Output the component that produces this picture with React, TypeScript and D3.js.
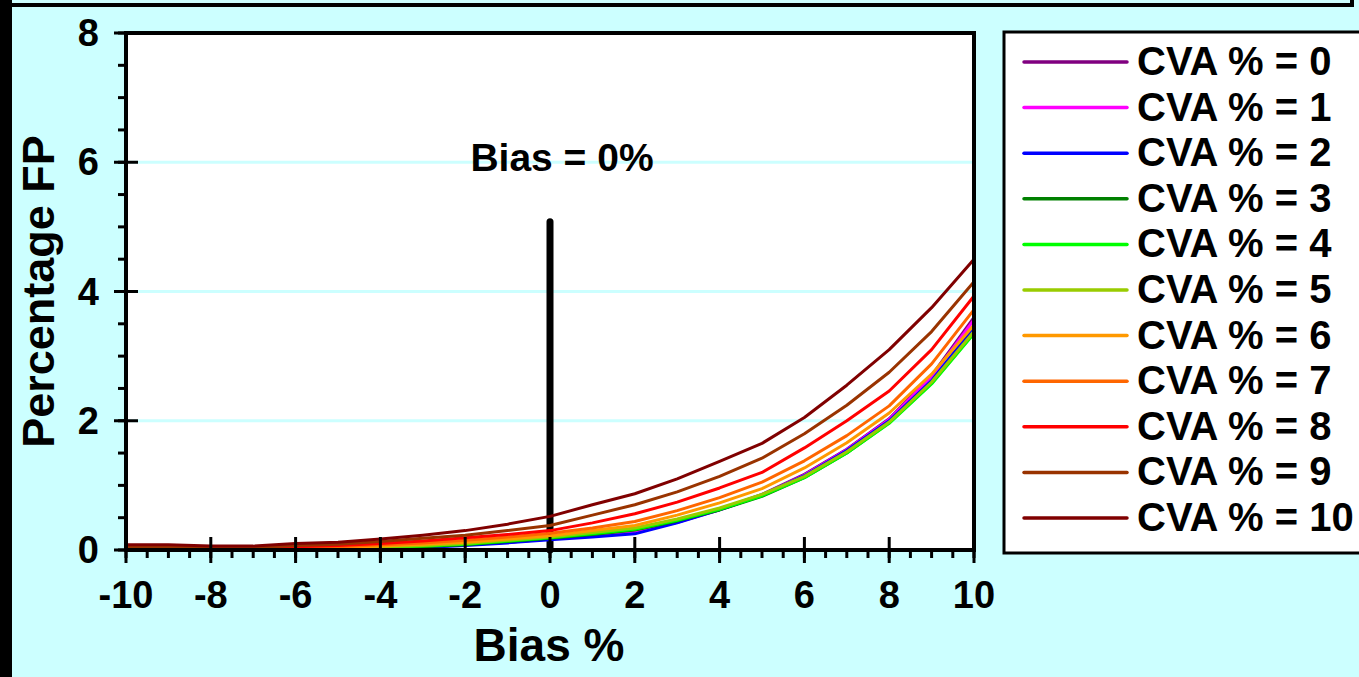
import React, { useEffect, useRef } from 'react';
import * as d3 from 'd3';

// bias values along the x axis
const biasValues = [-10, -9, -8, -7, -6, -5, -4, -3, -2, -1, 0, 1, 2, 3, 4, 5, 6, 7, 8, 9, 10];

const cvaLabels = ['CVA % = 0', 'CVA % = 1', 'CVA % = 2', 'CVA % = 3', 'CVA % = 4', 'CVA % = 5',
    'CVA % = 6', 'CVA % = 7', 'CVA % = 8', 'CVA % = 9', 'CVA % = 10'];

const cvaColours = ['#800080', '#ff00ff', '#0000ff', '#008000', '#00ff00', '#99cc00',
    '#ff9900', '#ff6600', '#ff0000', '#993300', '#800000'];

// percentage FP per CVA
const cva0 = [0, 0, 0, 0, 0.01, 0.02, 0.03, 0.05, 0.08, 0.12, 0.17, 0.22, 0.29, 0.43, 0.63, 0.86, 1.17, 1.56, 2.03, 2.7, 3.6];
const cva1 = [0, 0, 0, 0, 0.01, 0.02, 0.03, 0.05, 0.08, 0.12, 0.17, 0.22, 0.28, 0.43, 0.62, 0.85, 1.16, 1.55, 2.02, 2.68, 3.56];
const cva2 = [0, 0, 0, 0, 0.01, 0.01, 0.02, 0.04, 0.07, 0.11, 0.16, 0.2, 0.25, 0.42, 0.62, 0.85, 1.15, 1.54, 2.0, 2.62, 3.45];
const cva3 = [0, 0, 0, 0, 0.01, 0.02, 0.03, 0.05, 0.08, 0.13, 0.18, 0.24, 0.31, 0.45, 0.62, 0.83, 1.12, 1.5, 1.97, 2.58, 3.36];
const cva4 = [0, 0, 0, 0, 0.01, 0.02, 0.04, 0.06, 0.09, 0.14, 0.19, 0.25, 0.32, 0.46, 0.63, 0.84, 1.12, 1.5, 1.96, 2.57, 3.35];
const cva5 = [0, 0, 0, 0.01, 0.02, 0.03, 0.05, 0.07, 0.1, 0.15, 0.2, 0.27, 0.34, 0.48, 0.65, 0.86, 1.14, 1.52, 1.98, 2.6, 3.38];
const cva6 = [0, 0, 0.01, 0.01, 0.02, 0.04, 0.06, 0.09, 0.12, 0.17, 0.22, 0.3, 0.38, 0.54, 0.73, 0.95, 1.27, 1.66, 2.12, 2.72, 3.48];
const cva7 = [0.01, 0.01, 0.01, 0.02, 0.03, 0.05, 0.08, 0.11, 0.15, 0.2, 0.26, 0.34, 0.44, 0.61, 0.81, 1.05, 1.38, 1.77, 2.23, 2.88, 3.72];
const cva8 = [0.02, 0.02, 0.02, 0.03, 0.05, 0.07, 0.1, 0.14, 0.19, 0.24, 0.3, 0.42, 0.56, 0.74, 0.96, 1.2, 1.58, 2.0, 2.46, 3.1, 3.93];
const cva9 = [0.05, 0.05, 0.04, 0.04, 0.07, 0.09, 0.13, 0.18, 0.23, 0.3, 0.38, 0.54, 0.7, 0.9, 1.14, 1.42, 1.8, 2.24, 2.75, 3.38, 4.15];
const cva10 = [0.08, 0.08, 0.06, 0.06, 0.1, 0.12, 0.17, 0.23, 0.3, 0.4, 0.52, 0.7, 0.87, 1.1, 1.37, 1.65, 2.05, 2.55, 3.1, 3.75, 4.5];

const seriesValues = [cva0, cva1, cva2, cva3, cva4, cva5, cva6, cva7, cva8, cva9, cva10];

const xTicks = [-10, -8, -6, -4, -2, 0, 2, 4, 6, 8, 10];
const yTicks = [0, 2, 4, 6, 8];
const gridValues = [2, 4, 6];

// the vertical marker at bias 0
const markerBias = 0;
const markerHeight = 5.08;
const markerLabel = 'Bias = 0%';

const W = 1359;
const H = 677;
const FONT = 'Arial, "Liberation Sans", Helvetica, sans-serif';

export default function App() {
    const ref = useRef<SVGSVGElement>(null);

    useEffect(() => {
        const svg = d3.select(ref.current);
        svg.selectAll('*').remove();

        const margin = { top: 33, right: 385, bottom: 127, left: 126 };
        const width = W - margin.left - margin.right;
        const height = H - margin.top - margin.bottom;

        const x = d3.scaleLinear().domain([-10, 10]).range([margin.left, margin.left + width]);
        const y = d3.scaleLinear().domain([0, 8]).range([margin.top + height, margin.top]);

        // background and the black frame bits
        svg.append('rect').attr('width', W).attr('height', H).attr('fill', '#ccffff');
        svg.append('rect').attr('x', 0).attr('y', 0).attr('width', 12).attr('height', H).attr('fill', '#000');
        svg.append('line').attr('x1', 0).attr('x2', 1354).attr('y1', 5).attr('y2', 5)
            .attr('stroke', '#000').attr('stroke-width', 4);
        svg.append('line').attr('x1', 1352).attr('x2', 1352).attr('y1', 0).attr('y2', 5)
            .attr('stroke', '#000').attr('stroke-width', 4);

        // plot area
        svg.append('rect')
            .attr('x', margin.left).attr('y', margin.top)
            .attr('width', width).attr('height', height)
            .attr('fill', '#fff');

        svg.selectAll('.grid')
            .data(gridValues)
            .enter().append('line')
            .attr('class', 'grid')
            .attr('x1', margin.left).attr('x2', margin.left + width)
            .attr('y1', (d: number) => y(d)).attr('y2', (d: number) => y(d))
            .attr('stroke', '#ccffff').attr('stroke-width', 3);

        // bias marker
        svg.append('line')
            .attr('x1', x(markerBias)).attr('x2', x(markerBias))
            .attr('y1', y(0)).attr('y2', y(markerHeight))
            .attr('stroke', '#000').attr('stroke-width', 7).attr('stroke-linecap', 'round');

        svg.append('text')
            .attr('x', x(markerBias) + 12).attr('y', y(6) + 9)
            .attr('text-anchor', 'middle')
            .attr('font-family', FONT).attr('font-weight', 'bold').attr('font-size', 39)
            .text(markerLabel);

        // series
        const line = d3.line<number>()
            .x((_d: number, i: number) => x(biasValues[i]))
            .y((d: number) => y(d));

        svg.selectAll('.series')
            .data(seriesValues)
            .enter().append('path')
            .attr('class', 'series')
            .attr('d', (d: number[]) => line(d))
            .attr('fill', 'none')
            .attr('stroke', (_d: number[], i: number) => cvaColours[i])
            .attr('stroke-width', 3)
            .attr('stroke-linejoin', 'round');

        // frame
        svg.append('rect')
            .attr('x', margin.left).attr('y', margin.top)
            .attr('width', width).attr('height', height)
            .attr('fill', 'none').attr('stroke', '#000').attr('stroke-width', 4);

        // y ticks
        const yMinor = d3.range(0, 8.01, 0.5);
        svg.selectAll('.yMinor')
            .data(yMinor)
            .enter().append('line')
            .attr('class', 'yMinor')
            .attr('x1', margin.left - 8).attr('x2', margin.left)
            .attr('y1', (d: number) => y(d)).attr('y2', (d: number) => y(d))
            .attr('stroke', '#000').attr('stroke-width', 3);
        svg.selectAll('.yMajor')
            .data(yTicks)
            .enter().append('line')
            .attr('class', 'yMajor')
            .attr('x1', margin.left - 12).attr('x2', margin.left + 12)
            .attr('y1', (d: number) => y(d)).attr('y2', (d: number) => y(d))
            .attr('stroke', '#000').attr('stroke-width', 3);
        svg.selectAll('.yLabel')
            .data(yTicks)
            .enter().append('text')
            .attr('class', 'yLabel')
            .attr('x', margin.left - 27)
            .attr('y', (d: number) => y(d) + 13)
            .attr('text-anchor', 'end')
            .attr('font-family', FONT).attr('font-weight', 'bold').attr('font-size', 38)
            .text((d: number) => d);

        // x ticks
        const xMinor = d3.range(-10, 10.01, 0.5);
        svg.selectAll('.xMinor')
            .data(xMinor)
            .enter().append('line')
            .attr('class', 'xMinor')
            .attr('x1', (d: number) => x(d)).attr('x2', (d: number) => x(d))
            .attr('y1', y(0)).attr('y2', y(0) + 8)
            .attr('stroke', '#000').attr('stroke-width', 3);
        svg.selectAll('.xMajor')
            .data(xTicks)
            .enter().append('line')
            .attr('class', 'xMajor')
            .attr('x1', (d: number) => x(d)).attr('x2', (d: number) => x(d))
            .attr('y1', y(0) - 13).attr('y2', y(0) + 13)
            .attr('stroke', '#000').attr('stroke-width', 3);
        svg.selectAll('.xLabel')
            .data(xTicks)
            .enter().append('text')
            .attr('class', 'xLabel')
            .attr('x', (d: number) => x(d))
            .attr('y', y(0) + 58)
            .attr('text-anchor', 'middle')
            .attr('font-family', FONT).attr('font-weight', 'bold').attr('font-size', 38)
            .text((d: number) => d);

        // axis titles
        svg.append('text')
            .attr('x', x(0) - 1).attr('y', 661)
            .attr('text-anchor', 'middle')
            .attr('font-family', FONT).attr('font-weight', 'bold').attr('font-size', 46)
            .text('Bias %');
        svg.append('text')
            .attr('transform', `translate(54, ${(margin.top + margin.top + height) / 2}) rotate(-90)`)
            .attr('text-anchor', 'middle')
            .attr('font-family', FONT).attr('font-weight', 'bold').attr('font-size', 45)
            .text('Percentage FP');

        // legend
        const legendTop = 62;
        const legendStep = 45.6;
        svg.append('rect')
            .attr('x', 1004).attr('y', 32)
            .attr('width', 400).attr('height', 521)
            .attr('fill', '#fff').attr('stroke', '#000').attr('stroke-width', 3);
        const items = svg.selectAll('.legendItem')
            .data(cvaLabels)
            .enter().append('g')
            .attr('class', 'legendItem')
            .attr('transform', (_d: string, i: number) => `translate(0, ${legendTop + i * legendStep})`);
        items.append('line')
            .attr('x1', 1024).attr('x2', 1127)
            .attr('stroke', (_d: string, i: number) => cvaColours[i])
            .attr('stroke-width', 3.5).attr('stroke-linecap', 'round');
        items.append('text')
            .attr('x', 1137).attr('y', 13)
            .attr('font-family', FONT).attr('font-weight', 'bold').attr('font-size', 40)
            .text((d: string) => d);
    }, []);

    return (
        <div style={{ position: 'absolute', left: 0, top: 0 }}>
            <svg ref={ref} width={W} height={H} style={{ display: 'block' }} />
        </div>
    );
}
